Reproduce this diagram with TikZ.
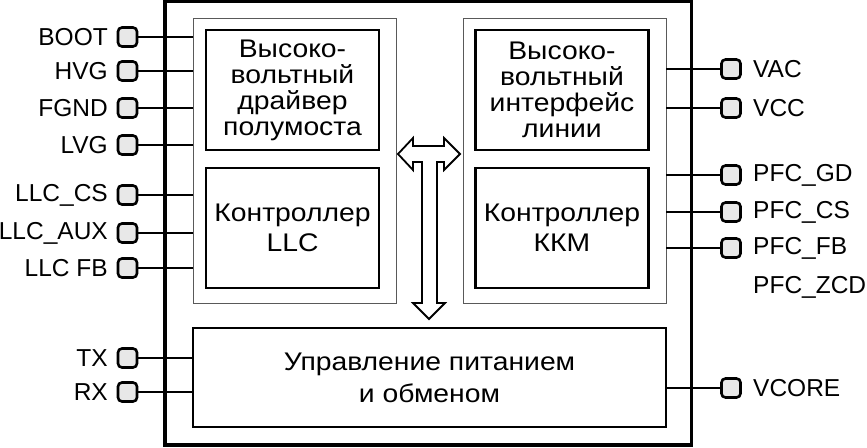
\documentclass[tikz,border=0pt]{standalone}
\usepackage{fontspec}
\setmainfont{Liberation Sans}
\newfontfamily\blockfont[FakeStretch=1.11]{Liberation Sans}
\begin{document}
\begin{tikzpicture}[x=1pt,y=-1pt,
  font=\fontsize{24.5}{27}\selectfont,
  chipbox/.style={draw, line width=3.3pt, inner sep=0pt, outer sep=0pt},
  grpbox/.style={draw=black!65, line width=1pt, inner sep=0pt, outer sep=0pt, minimum width=203pt, minimum height=285pt},
  blkbox/.style={draw, line width=2.4pt, inner sep=0pt, outer sep=0pt, align=center, minimum width=173pt},
  pin/.style={draw, fill=black!9, rounded corners=4pt, line width=2.6pt, minimum size=19pt, inner sep=0pt, outer sep=0pt},
  wire/.style={line width=1.4pt},
  llbl/.style={anchor=east, inner sep=0pt},
  rlbl/.style={anchor=west, inner sep=0pt},
  bigarrow/.style={draw, line width=1.8pt, fill=white, line join=miter}]
\useasboundingbox (0,0) rectangle (867,447);
% chip outline
\node[chipbox, minimum width=526.5pt, minimum height=443.5pt] (chip) at (428.25,223.25) {};
% groups
\node[grpbox] (gl) at (294.5,160.5) {};
\node[grpbox] (gr) at (564.5,160.5) {};
% blocks
\node[blkbox, minimum height=120pt, font=\blockfont\fontsize{25.5}{26}\selectfont] (hvd) at (292.5,90) {Высоко-\\вольтный\\драйвер\\полумоста};
\node[blkbox, minimum height=120pt, font=\blockfont\fontsize{25.5}{30}\selectfont] (llc) at (292.5,228) {Контроллер\\LLC};
\node[blkbox, minimum height=120pt, font=\blockfont\fontsize{25.5}{26}\selectfont] (hvi) at (562,90) {Высоко-\\вольтный\\интерфейс\\линии};
\node[blkbox, minimum height=120pt, font=\blockfont\fontsize{25.5}{30}\selectfont] (pfc) at (562,228) {Контроллер\\ККМ};
\node[draw, line width=1.4pt, inner sep=0pt, outer sep=0pt, align=center, minimum width=473pt, minimum height=99pt, font=\blockfont\fontsize{25.5}{32}\selectfont] (pwr) at (429.5,377.5) {Управление питанием\\и обменом};
% big arrow (T shaped)
\draw[bigarrow] (398,154) -- (413,138) -- (413,146) -- (444,146) -- (444,138) -- (460,154)
  -- (444,170) -- (444,162) -- (437,162) -- (437,303) -- (445,303) -- (429,319)
  -- (413,303) -- (422,303) -- (422,162) -- (413,162) -- (413,170) -- cycle;
% left pins
\foreach \n/\t/\y in {boot/BOOT/37, hvg/HVG/71, fgnd/FGND/108, lvg/LVG/145, llccs/LLC\_CS/195, llcaux/LLC\_AUX/233, llcfb/LLC FB/268}{
  \node[pin] (p\n) at (127.5,\y) {};
  \node[llbl] (l\n) at (108,\y) {\t};
  \draw[wire] (p\n.east) -- (p\n.east -| gl.west);
}
\foreach \n/\t/\y in {tx/TX/358, rx/RX/392}{
  \node[pin] (p\n) at (127.5,\y) {};
  \node[llbl] (l\n) at (108,\y) {\t};
  \draw[wire] (p\n.east) -- (p\n.east -| pwr.west);
}
% right pins
\foreach \n/\t/\y in {vac/VAC/69, vcc/VCC/108, pfcgd/PFC\_GD/175, pfccs/PFC\_CS/212, pfcfb/PFC\_FB/248}{
  \node[pin] (p\n) at (731,\y) {};
  \node[rlbl] (l\n) at (753,\y) {\t};
  \draw[wire] (p\n.west) -- (p\n.west -| gr.east);
}
\node[rlbl] (lpfczcd) at (753,287) {PFC\_ZCD};
\node[pin] (pvcore) at (731,388) {};
\node[rlbl] (lvcore) at (753,388) {VCORE};
\draw[wire] (pvcore.west) -- (pvcore.west -| pwr.east);
\end{tikzpicture}
\end{document}
